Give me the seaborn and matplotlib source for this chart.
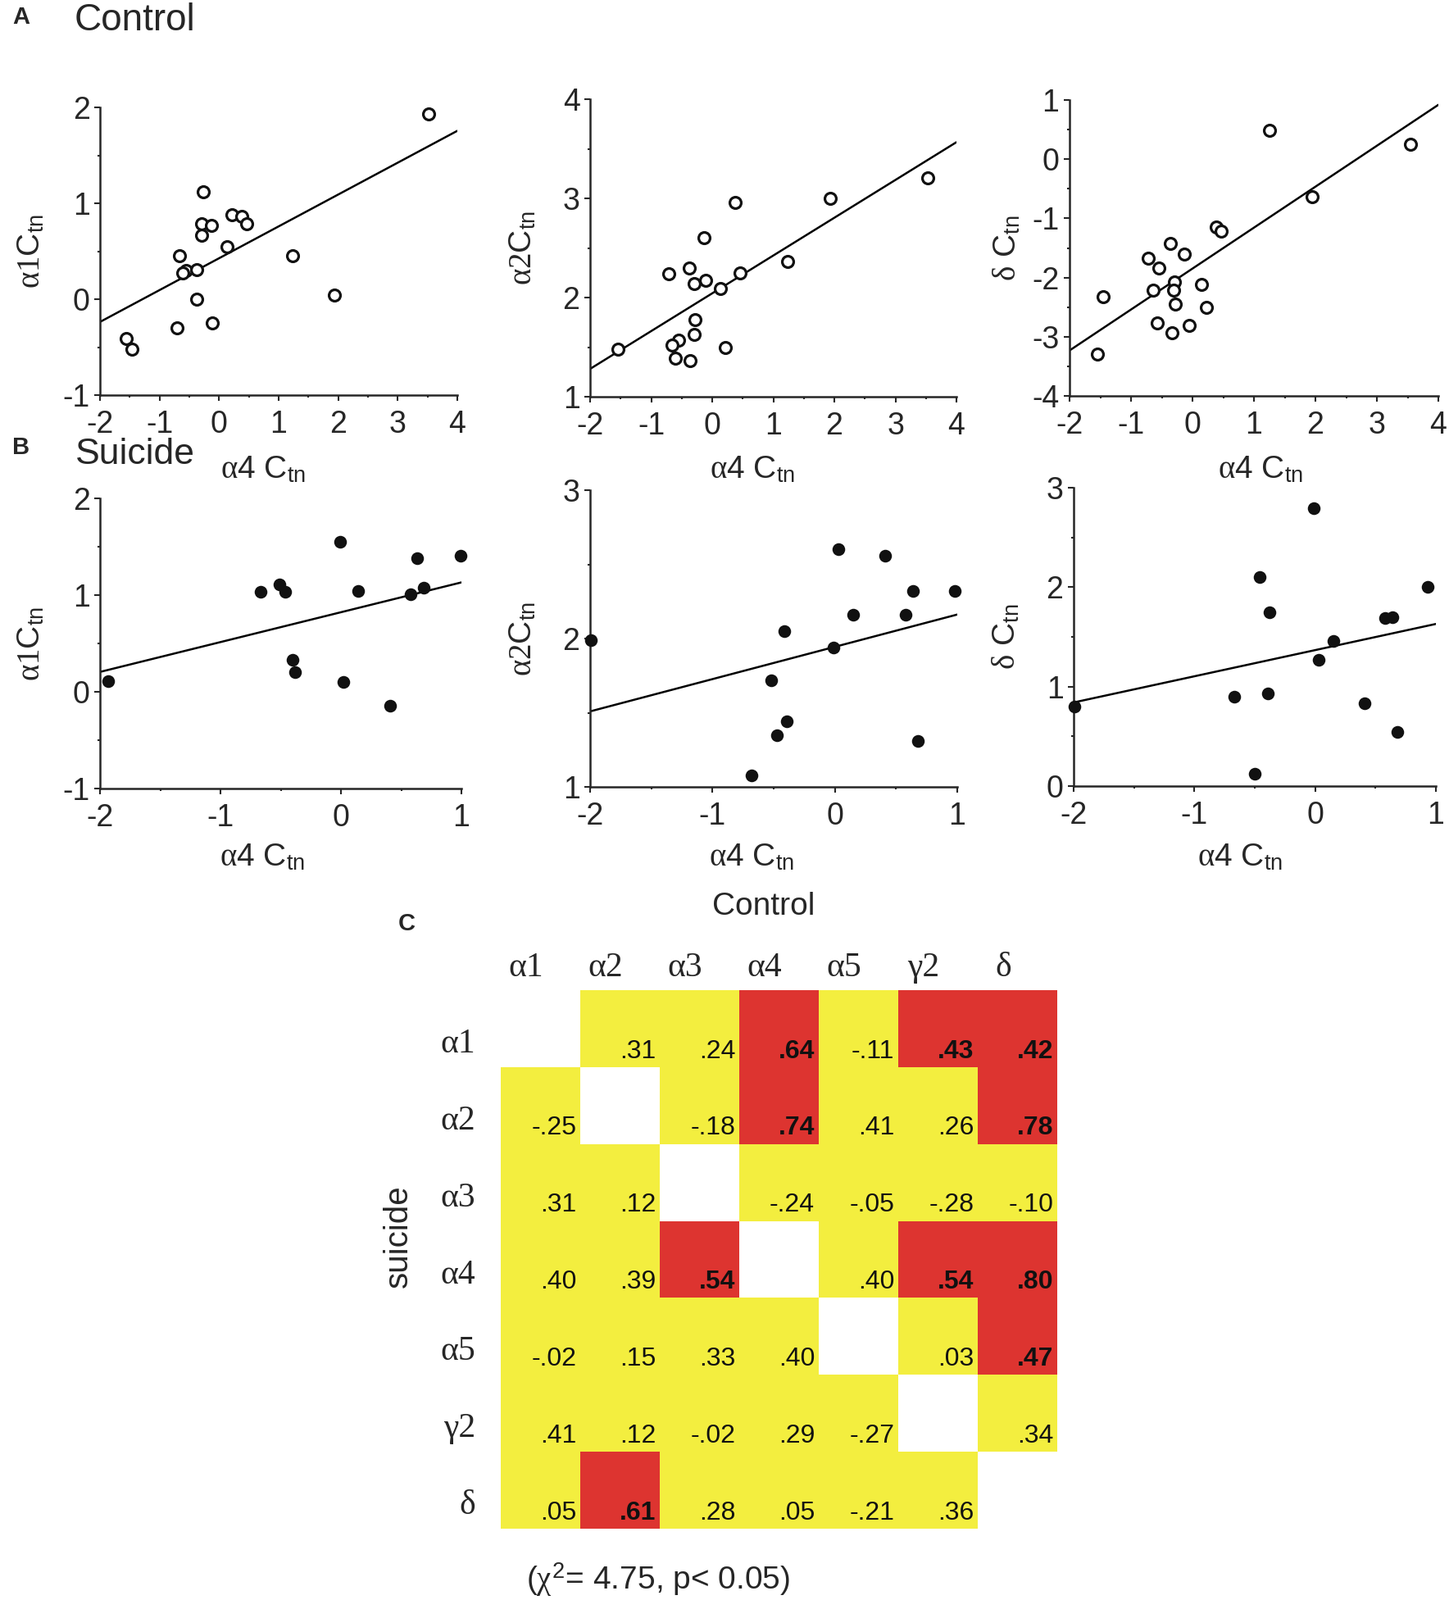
import numpy as np
import pandas as pd
import matplotlib
matplotlib.use("Agg")
import matplotlib.pyplot as plt
from matplotlib.colors import ListedColormap
from matplotlib.ticker import MultipleLocator
import seaborn as sns

# --- panel A: control group, alpha4 Ctn against the other subunits
ctrl_a1_x = [3.52, -0.27, 0.21, 0.38, 0.47, -0.30, -0.13, -0.29, 0.13, -0.66,
             1.24, -0.55, -0.61, -0.37, -0.38, 1.93, -0.11, -0.71, -1.56, -1.46]
ctrl_a1_y = [1.93, 1.12, 0.88, 0.86, 0.79, 0.79, 0.77, 0.67, 0.55, 0.45,
             0.45, 0.30, 0.27, 0.31, 0.00, 0.04, -0.25, -0.30, -0.41, -0.52]

ctrl_a2_x = [3.53, 1.93, 0.38, -0.13, -0.38, -0.71, 0.46, -0.11, -0.30, 0.13,
             1.24, -0.28, -0.30, -0.55, -0.66, -1.55, 0.22, -0.61, -0.36]
ctrl_a2_y = [3.21, 3.00, 2.96, 2.60, 2.30, 2.24, 2.25, 2.17, 2.14, 2.09,
             2.36, 1.78, 1.63, 1.57, 1.52, 1.48, 1.50, 1.39, 1.36]

ctrl_d_x = [1.25, 3.54, 1.94, 0.39, 0.47, -0.36, -0.13, -0.72, -0.55, -0.29,
            0.14, -0.64, -0.31, -1.46, -0.28, 0.23, -0.57, -0.06, -0.34, -1.55]
ctrl_d_y = [0.49, 0.25, -0.63, -1.15, -1.22, -1.43, -1.60, -1.67, -1.84, -2.08,
            -2.11, -2.22, -2.21, -2.32, -2.45, -2.50, -2.77, -2.81, -2.93, -3.29]

# --- panel B: suicide group
sui_a1_x = [-1.93, -0.67, -0.51, -0.46, -0.40, -0.38, -0.01, 0.02, 0.14, 0.41, 0.58, 0.63, 0.69, 0.99]
sui_a1_y = [0.11, 1.03, 1.11, 1.03, 0.33, 0.20, 1.55, 0.10, 1.04, -0.14, 1.01, 1.38, 1.08, 1.41]

sui_a2_x = [-1.99, -0.68, -0.52, -0.47, -0.41, -0.39, -0.01, 0.03, 0.15, 0.41, 0.58, 0.64, 0.68, 0.98]
sui_a2_y = [1.99, 1.08, 1.72, 1.35, 2.05, 1.44, 1.94, 2.60, 2.16, 2.56, 2.16, 2.32, 1.31, 2.32]

sui_d_x = [-1.99, -0.67, -0.50, -0.46, -0.39, -0.38, -0.01, 0.03, 0.15, 0.41, 0.58, 0.64, 0.68, 0.93]
sui_d_y = [0.80, 0.90, 0.12, 2.10, 0.93, 1.75, 2.79, 1.27, 1.46, 0.83, 1.69, 1.70, 0.54, 2.00]

# --- panel C: correlation matrix (upper = control, lower = suicide)
subunits = ['α1', 'α2', 'α3', 'α4', 'α5', 'γ2', 'δ']
corr = [
    [np.nan, .31, .24, .64, -.11, .43, .42],
    [-.25, np.nan, -.18, .74, .41, .26, .78],
    [.31, .12, np.nan, -.24, -.05, -.28, -.10],
    [.40, .39, .54, np.nan, .40, .54, .80],
    [-.02, .15, .33, .40, np.nan, .03, .47],
    [.41, .12, -.02, .29, -.27, np.nan, .34],
    [.05, .61, .28, .05, -.21, .36, np.nan],
]
significant = [
    [0, 0, 0, 1, 0, 1, 1],
    [0, 0, 0, 1, 0, 0, 1],
    [0, 0, 0, 0, 0, 0, 0],
    [0, 0, 1, 0, 0, 1, 1],
    [0, 0, 0, 0, 0, 0, 1],
    [0, 0, 0, 0, 0, 0, 0],
    [0, 1, 0, 0, 0, 0, 0],
]

YELLOW = '#F3EE3F'
RED = '#DD3430'

sns.set_style('ticks')
plt.rcParams['font.family'] = ['Liberation Sans', 'DejaVu Sans']
plt.rcParams['mathtext.fontset'] = 'custom'
plt.rcParams['mathtext.rm'] = 'Liberation Serif'
plt.rcParams['mathtext.it'] = 'Liberation Serif'
plt.rcParams['axes.unicode_minus'] = False
plt.rcParams['axes.linewidth'] = 1.8

W, H = 1768, 1952
fig = plt.figure(figsize=(W / 100, H / 100), dpi=100)


def box(left, right, top, bottom):
    return [left / W, 1 - bottom / H, (right - left) / W, (bottom - top) / H]


TN = '$_{\\mathregular{tn}}$'
XLAB = '$\\alpha$4 C' + TN

scatter_panels = [
    # x, y, filled, box, xlim, ylim, ylabel, ylabel_x, xlabel_pos
    (ctrl_a1_x, ctrl_a1_y, False, box(122, 558, 131, 482), (-2, 4), (-1, 2), '$\\alpha 1$C', -0.151, (0.456, -0.259)),
    (ctrl_a2_x, ctrl_a2_y, False, box(720, 1167, 121, 484), (-2, 4), (1, 4), '$\\alpha 2$C', -0.143, (0.443, -0.245)),
    (ctrl_d_x, ctrl_d_y, False, box(1305, 1755, 122, 483), (-2, 4), (-4, 1), '$\\delta$ C', -0.128, (0.519, -0.249)),
    (sui_a1_x, sui_a1_y, True, box(122, 563, 608, 962), (-2, 1), (-1, 2), '$\\alpha 1$C', -0.150, (0.45, -0.237)),
    (sui_a2_x, sui_a2_y, True, box(720, 1168, 598, 960), (-2, 1), (1, 3), '$\\alpha 2$C', -0.143, (0.44, -0.237)),
    (sui_d_x, sui_d_y, True, box(1310, 1752, 595, 959), (-2, 1), (0, 3), '$\\delta$ C', -0.144, (0.46, -0.240)),
]

for xs, ys, filled, rect, xlim, ylim, ylab, ylx, xlp in scatter_panels:
    ax = fig.add_axes(rect)
    df = pd.DataFrame({'x': xs, 'y': ys})
    ax.set_xlim(*xlim)
    ax.set_ylim(*ylim)
    # least-squares line across the whole x range
    sns.regplot(data=df, x='x', y='y', ax=ax, scatter=False, ci=None, truncate=False,
                line_kws={'color': 'black', 'lw': 1.8})
    sns.scatterplot(data=df, x='x', y='y', ax=ax, marker='o',
                    s=125 if filled else 100,
                    facecolor='#111111' if filled else 'white',
                    edgecolor='#111111', linewidth=0 if filled else 2.3,
                    clip_on=False, zorder=3)
    ax.set_xlim(*xlim)
    ax.set_ylim(*ylim)
    sns.despine(ax=ax)
    ax.xaxis.set_major_locator(MultipleLocator(1))
    ax.xaxis.set_minor_locator(MultipleLocator(0.5))
    ax.yaxis.set_major_locator(MultipleLocator(1))
    ax.yaxis.set_minor_locator(MultipleLocator(0.5))
    ax.tick_params(which='major', length=5, width=1.5, labelsize=27)
    ax.tick_params(which='minor', length=2.2, width=1.5)
    ax.tick_params(axis='x', which='major', pad=8)
    ax.tick_params(axis='y', which='major', pad=4)
    ax.set_ylabel(ylab + TN, fontsize=28)
    ax.yaxis.set_label_coords(ylx, 0.5)
    ax.set_xlabel(XLAB, fontsize=28)
    ax.xaxis.set_label_coords(*xlp)
    ax.xaxis.label.set_va('center')

# panel letters and group titles
fig.text(15 / W, 1 - 21 / H, 'A', fontsize=21, weight='bold', va='center')
fig.text(91 / W, 1 - 25 / H, 'Control', fontsize=33, va='center')
fig.text(15 / W, 1 - 546 / H, 'B', fontsize=21, weight='bold', va='center')
fig.text(92 / W, 1 - 554 / H, 'Suicide', fontsize=32, va='center')

# --- correlation heatmap
axh = fig.add_axes(box(611, 1290, 1208, 1865))
sig_df = pd.DataFrame(significant, index=subunits, columns=subunits)
corr_df = pd.DataFrame(corr, index=subunits, columns=subunits)
diag = corr_df.isna()
sns.heatmap(sig_df, mask=diag, cmap=ListedColormap([YELLOW, RED]), vmin=0, vmax=1,
            cbar=False, linewidths=0, ax=axh)
n = len(subunits)
for i in range(n):
    for j in range(n):
        v = corr_df.iloc[i, j]
        if np.isnan(v):
            continue
        label = f'{v:.2f}'.replace('0.', '.', 1)
        axh.text(j + 0.95, i + 0.88, label, ha='right', va='baseline', fontsize=23,
                 weight='bold' if sig_df.iloc[i, j] else 'normal', color='#111111')

axh.xaxis.tick_top()
axh.set_xticks(np.arange(n) + 0.32)
axh.set_xticklabels(subunits, family='Liberation Serif', fontsize=30)
axh.set_yticks(np.arange(n) + 0.7)
axh.set_yticklabels(subunits, family='Liberation Serif', fontsize=30, rotation=0)
axh.tick_params(axis='both', length=0)
axh.tick_params(axis='x', pad=6)
axh.tick_params(axis='y', pad=22)
axh.set_xlabel('')
axh.set_ylabel('')

fig.text(932 / W, 1 - 1106 / H, 'Control', fontsize=28, ha='center', va='center')
fig.text(496 / W, 1 - 1127 / H, 'C', fontsize=21, weight='bold', ha='center', va='center')
fig.text(486 / W, 1 - 1508 / H, 'suicide', fontsize=29, ha='center', va='center', rotation=90)
fig.text(803 / W, 1 - 1927 / H, '($\\chi^{\\mathregular{2}}$= 4.75, p< 0.05)',
         fontsize=28, ha='center', va='center')

fig.savefig('out.png', dpi=100)
